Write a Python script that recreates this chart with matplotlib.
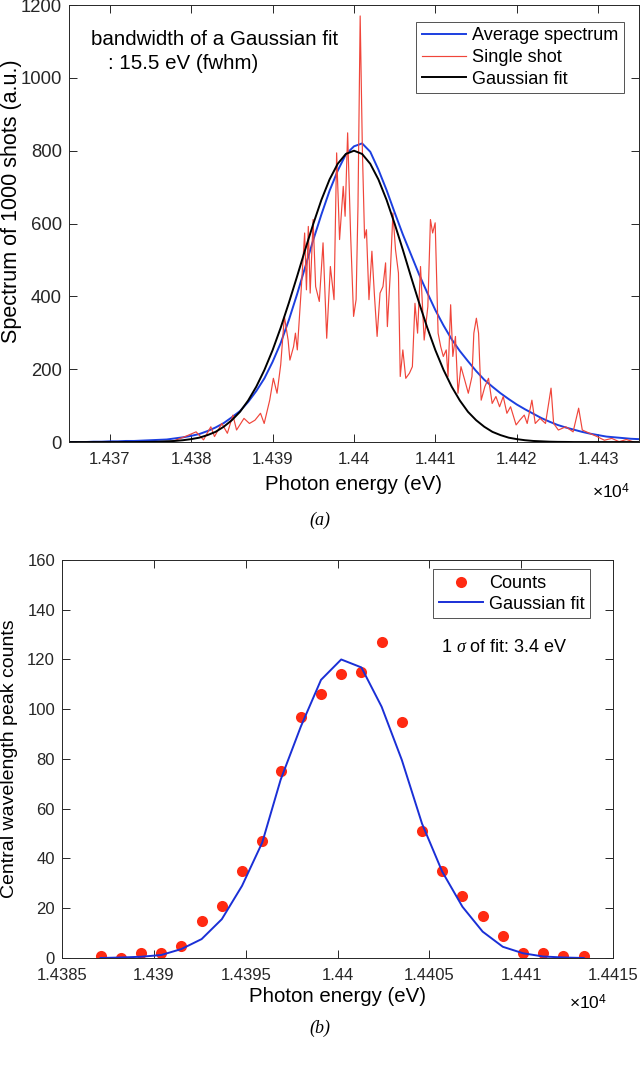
import matplotlib
matplotlib.use("Agg")
import matplotlib.pyplot as plt
from matplotlib.ticker import FuncFormatter, MultipleLocator

plt.rcParams['font.family'] = ['Liberation Sans', 'DejaVu Sans']
plt.rcParams['mathtext.fontset'] = 'custom'
plt.rcParams['mathtext.rm'] = 'Liberation Sans'
plt.rcParams['mathtext.it'] = 'Liberation Serif:italic'

# ---- panel (a) data ----
grid_energy = list(range(14365, 14436))  # 1 eV grid

avg_spectrum = [0, 0, 0,
                1, 1, 2, 2, 3, 3, 4, 5, 6, 7,
                10, 13, 17, 22, 30, 40, 52, 68, 85, 110,
                140, 175, 220, 272, 335, 405, 480, 555, 625, 690,
                745, 790, 812, 820, 797, 748, 692, 630, 570, 515,
                460, 410, 362, 320, 282, 250, 222, 195, 171, 152,
                134, 118, 103, 90, 78, 66, 56, 47, 40, 34,
                28, 23, 19, 15, 13, 11, 9, 8]

gauss_fit = [0, 0, 0, 0, 0, 0, 0, 0, 0,
             0.3, 0.5, 1, 2, 3, 5, 8, 12, 19, 28, 42, 60, 83, 114, 152, 198,
             252, 314, 382, 454, 528, 599, 665, 721, 764, 791,
             800,
             791, 764, 721, 665, 599, 528, 454, 382, 314, 252,
             198, 152, 114, 83, 60, 42, 28, 19, 12, 8, 5, 3, 2, 1, 0.5, 0.3,
             0, 0, 0, 0, 0, 0, 0, 0, 0]

shot_energy = [14377.45, 14379.26, 14380.61, 14381.52, 14382.42, 14382.87, 14383.77, 14384.45,
               14385.13, 14385.58, 14386.49, 14387.16, 14387.84, 14388.52, 14388.97, 14389.65,
               14390.10, 14390.55, 14391.00, 14391.45, 14391.91, 14392.13, 14392.58, 14392.81,
               14393.04, 14393.49, 14393.94, 14394.16, 14394.39, 14394.62, 14394.98, 14395.29,
               14395.74, 14396.20, 14396.65, 14397.10, 14397.55, 14397.87, 14398.23, 14398.68,
               14398.91, 14399.22, 14399.58, 14399.95, 14400.26, 14400.49, 14400.76, 14401.03,
               14401.30, 14401.53, 14401.84, 14402.20, 14402.52, 14402.84, 14403.20, 14403.56,
               14403.88, 14404.10, 14404.46, 14404.78, 14405.10, 14405.46, 14405.68, 14406.00,
               14406.36, 14406.81, 14407.17, 14407.49, 14407.81, 14408.17, 14408.62, 14409.07,
               14409.39, 14409.66, 14409.97, 14410.33, 14410.65, 14410.97, 14411.33, 14411.55,
               14411.87, 14412.14, 14412.46, 14412.77, 14413.14, 14413.59, 14414.04, 14414.49,
               14414.72, 14415.03, 14415.30, 14415.62, 14416.07, 14416.52, 14416.97, 14417.43,
               14417.88, 14418.33, 14418.78, 14419.23, 14419.91, 14420.36, 14420.91, 14421.27,
               14421.85, 14422.26, 14422.85, 14423.52, 14424.20, 14424.52, 14425.10, 14426.01,
               14426.91, 14427.59, 14428.04, 14428.94, 14429.85, 14430.75, 14431.66, 14432.56,
               14433.46, 14434.37]
shot_counts = [0, 15, 28, 6, 42, 15, 51, 24,
               74, 33, 65, 51, 60, 79, 51, 115,
               175, 134, 212, 345, 280, 225, 262, 299,
               253, 409, 574, 418, 592, 409, 611, 427,
               386, 547, 285, 482, 391, 794, 556, 702,
               620, 849, 574, 345, 391, 647, 1170, 803,
               560, 583, 391, 524, 400, 290, 409, 427,
               492, 317, 464, 629, 528, 464, 180, 253,
               175, 189, 207, 381, 299, 482, 280, 372,
               611, 574, 602, 299, 262, 235, 253, 180,
               377, 235, 290, 134, 207, 171, 134, 180,
               299, 340, 299, 115, 152, 175, 106, 125,
               97, 125, 79, 97, 47, 60, 74, 51,
               115, 51, 65, 51, 148, 51, 33, 42,
               28, 93, 33, 24, 15, 5, 10, 1,
               7, 0]

# ---- panel (b) data ----
peak_energy = [14387.1, 14388.2, 14389.3, 14390.4, 14391.5, 14392.6, 14393.7, 14394.8,
               14395.9, 14396.9, 14398.0, 14399.1, 14400.2, 14401.3, 14402.4, 14403.5,
               14404.6, 14405.7, 14406.8, 14407.9, 14409.0, 14410.1, 14411.2, 14412.3, 14413.4]
peak_counts = [1, 0, 2, 2, 5, 15, 21, 35, 47, 75, 97, 106, 114, 115, 127, 95,
               51, 35, 25, 17, 9, 2, 2, 1, 1]
peak_fit = [0, 0.2, 0.5, 1.2, 3.6, 7.6, 15.6, 29, 46.4, 71.6, 93, 111.8, 120, 116.8, 101, 79.6,
            54, 34.7, 20.6, 10.6, 4.5, 1.9, 0.6, 0.2, 0]

sci = FuncFormatter(lambda v, p: f'{round(v / 1e4, 5):g}')
dark = '#262626'


def style(ax, ysize):
	ax.tick_params(direction='in', top=True, right=True, length=5.5, width=0.7, colors=dark)
	ax.tick_params(axis='x', labelsize=12, pad=7)
	ax.tick_params(axis='y', labelsize=ysize, pad=5)
	for s in ax.spines.values():
		s.set_linewidth(0.7)
		s.set_color(dark)
	ax.xaxis.set_major_formatter(sci)


def add_legend(ax, anchor, spacing):
	leg = ax.legend(loc='upper right', bbox_to_anchor=anchor, fontsize=13.1, frameon=True,
	                fancybox=False, edgecolor=dark, handlelength=2.4, handletextpad=0.35,
	                borderpad=0.32, labelspacing=spacing, borderaxespad=0)
	leg.get_frame().set_linewidth(0.7)
	return leg


fig = plt.figure(figsize=(6.4, 10.68), dpi=100)

# Panel (a)
ax1 = fig.add_axes([0.1078, 0.5861, 0.8906, 0.4092])
ax1.plot(grid_energy, avg_spectrum, color='#1c3fe0', lw=1.4, label='Average spectrum')
ax1.plot(shot_energy, shot_counts, color='#f0453a', lw=0.85, label='Single shot')
ax1.plot(grid_energy, gauss_fit, color='black', lw=1.4, label='Gaussian fit')
ax1.set_xlim(14365, 14435)
ax1.set_ylim(0, 1200)
ax1.xaxis.set_major_locator(MultipleLocator(10))
ax1.yaxis.set_major_locator(MultipleLocator(200))
style(ax1, 13.3)
ax1.set_xlabel('Photon energy (eV)', fontsize=14.7)
ax1.xaxis.set_label_coords(0.5, -0.076)
ax1.set_ylabel('Spectrum of 1000 shots (a.u.)', fontsize=15.5)
ax1.yaxis.set_label_coords(-0.083, 0.55)
add_legend(ax1, (0.974, 0.962), 0.25)
ax1.text(0.0386, 0.92, 'bandwidth of a Gaussian fit', transform=ax1.transAxes, fontsize=14.8,
         va='center')
ax1.text(0.068, 0.867, ': 15.5 eV (fwhm)', transform=ax1.transAxes, fontsize=14.8, va='center')
ax1.text(0.984, -0.114, r'$\times10^4$', transform=ax1.transAxes, fontsize=12.5, ha='right', va='center')
fig.text(0.5, 0.513, '(a)', fontsize=13, style='italic', family='Liberation Serif', ha='center',
         va='center')

# Panel (b)
ax2 = fig.add_axes([0.0969, 0.103, 0.861, 0.3727])
ax2.plot(peak_energy, peak_counts, 'o', color='#ff2a12', ms=8, mec='none', label='Counts')
ax2.plot(peak_energy, peak_fit, color='#1a2fd6', lw=1.4, label='Gaussian fit')
ax2.set_xlim(14385, 14415)
ax2.set_ylim(0, 160)
ax2.xaxis.set_major_locator(MultipleLocator(5))
ax2.yaxis.set_major_locator(MultipleLocator(20))
style(ax2, 12)
ax2.set_xlabel('Photon energy (eV)', fontsize=14.7)
ax2.xaxis.set_label_coords(0.5, -0.073)
ax2.set_ylabel('Central wavelength peak counts', fontsize=14)
ax2.yaxis.set_label_coords(-0.080, 0.5)
add_legend(ax2, (0.959, 0.977), 0.2)
ax2.text(0.688, 0.78, r'1 $\mathit{\sigma}$ of fit: 3.4 eV', transform=ax2.transAxes, fontsize=13,
         va='center')
ax2.text(0.989, -0.113, r'$\times10^4$', transform=ax2.transAxes, fontsize=12.5, ha='right', va='center')
fig.text(0.5, 0.0375, '(b)', fontsize=13, style='italic', family='Liberation Serif', ha='center',
         va='center')

fig.savefig('out.png', dpi=100)
